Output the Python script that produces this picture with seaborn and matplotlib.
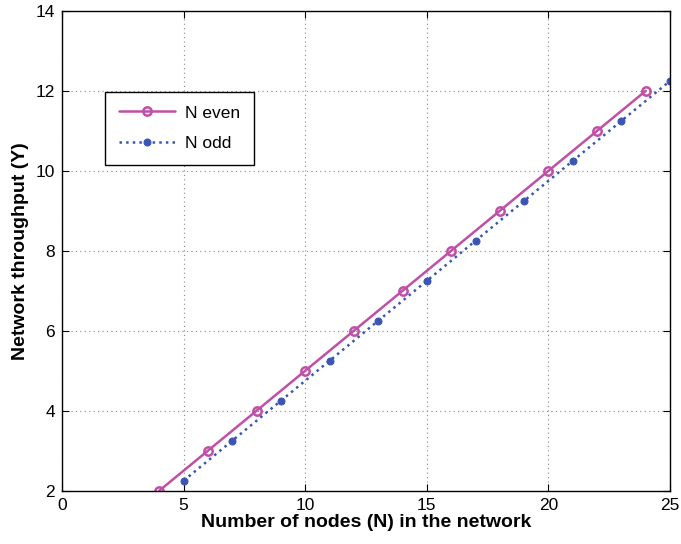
import matplotlib
matplotlib.use("Agg")
import matplotlib.pyplot as plt
import seaborn as sns
import pandas as pd

# data
n_even = [4, 6, 8, 10, 12, 14, 16, 18, 20, 22, 24]
y_even = [2, 3, 4, 5, 6, 7, 8, 9, 10, 11, 12]
n_odd = [5, 7, 9, 11, 13, 15, 17, 19, 21, 23, 25]
y_odd = [2.25, 3.25, 4.25, 5.25, 6.25, 7.25, 8.25, 9.25, 10.25, 11.25, 12.25]

df_even = pd.DataFrame({"N": n_even, "Y": y_even})
df_odd = pd.DataFrame({"N": n_odd, "Y": y_odd})

sns.set_style("ticks")
plt.rcParams["font.family"] = ["Liberation Sans", "DejaVu Sans"]
plt.rcParams.update({"text.color": "black", "axes.labelcolor": "black",
                     "xtick.color": "black", "ytick.color": "black",
                     "axes.edgecolor": "black"})

fig, ax = plt.subplots(figsize=(6.81, 5.44), dpi=100)
fig.subplots_adjust(left=0.091, right=0.984, top=0.980, bottom=0.098)

sns.lineplot(data=df_even, x="N", y="Y", ax=ax, color="#c04fa6", linewidth=1.8,
             marker="o", markersize=6, markerfacecolor="none",
             markeredgecolor="#c04fa6", markeredgewidth=1.8, label="N even")
sns.lineplot(data=df_odd, x="N", y="Y", ax=ax, color="#3a55b4", linewidth=1.8,
             linestyle=":", marker="o", markersize=5, markerfacecolor="#3a55b4",
             markeredgecolor="#3a55b4", label="N odd")

ax.set_xlim(0, 25)
ax.set_ylim(2, 14)
ax.set_xticks(range(0, 26, 5))
ax.set_yticks(range(2, 15, 2))
ax.grid(True, linestyle=(0, (1, 3)), color="#888888", linewidth=0.8)
ax.tick_params(direction="in", labelsize=12.5, length=5, pad=5, top=True, right=True)
for s in ax.spines.values():
    s.set_visible(True)
    s.set_linewidth(1.0)

ax.set_xlabel("Number of nodes (N) in the network", fontsize=14, fontweight="bold", labelpad=1)
ax.set_ylabel("Network throughput (Y)", fontsize=14, fontweight="bold", labelpad=5)

leg = ax.legend(loc="upper left", bbox_to_anchor=(0.057, 0.85), fontsize=12.5,
                frameon=True, fancybox=False, edgecolor="black", framealpha=1,
                handlelength=3.2, borderpad=0.8, labelspacing=0.9, handletextpad=0.6)
leg.get_frame().set_linewidth(1.0)

plt.savefig("out.png", dpi=100)
